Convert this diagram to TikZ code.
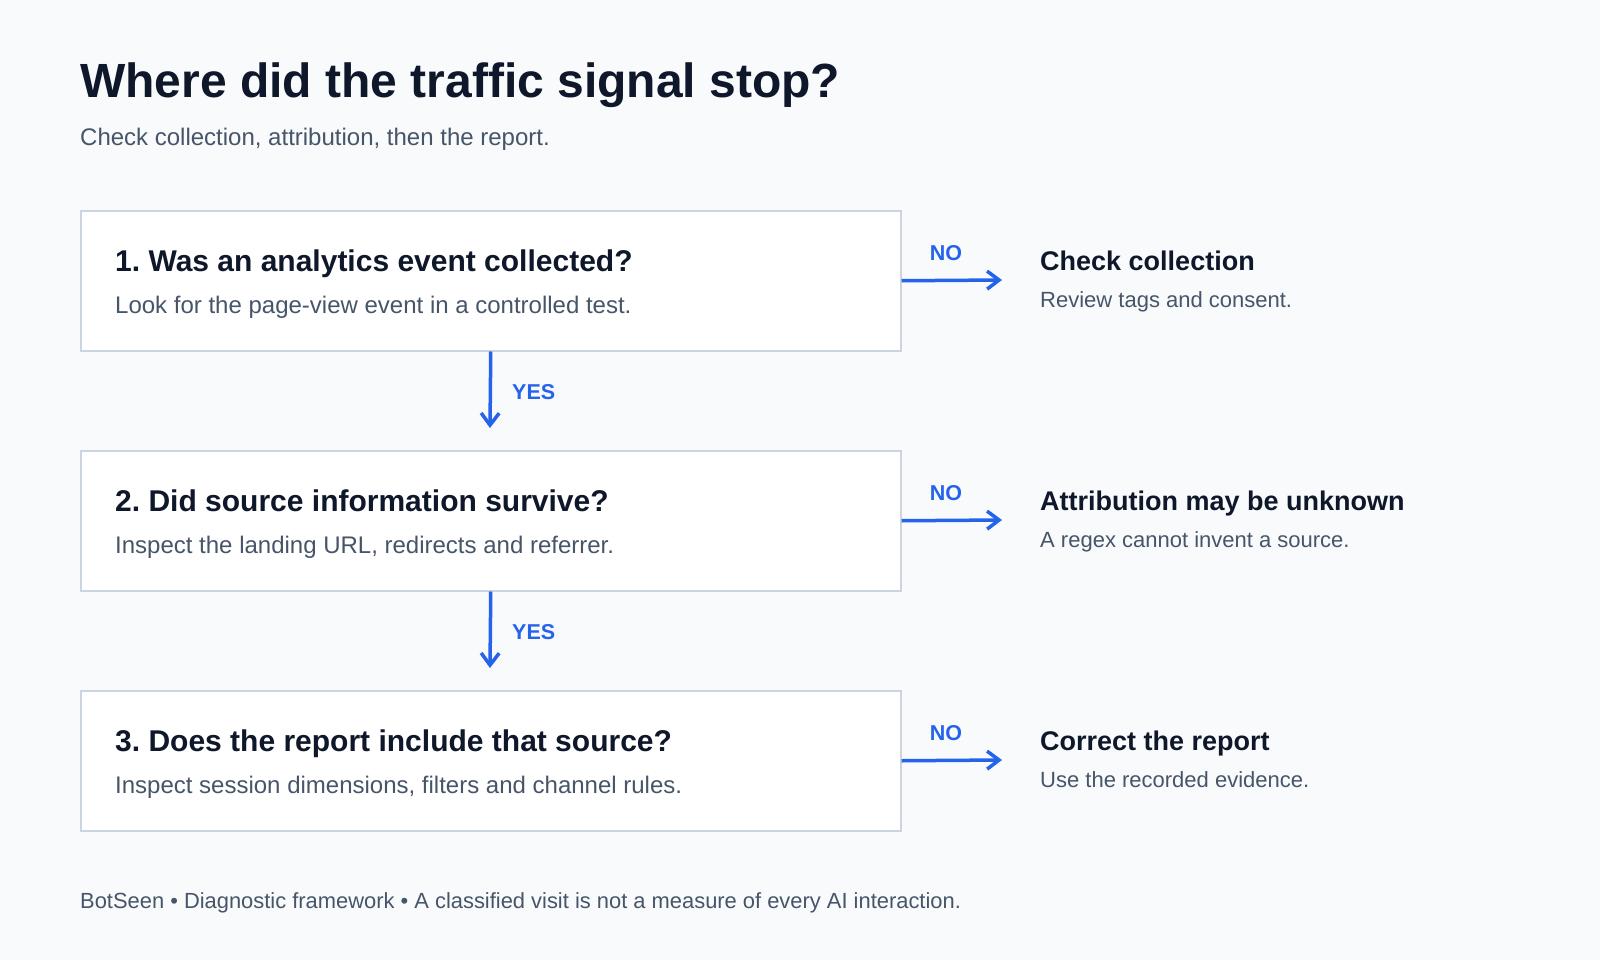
\documentclass[tikz,border=0pt]{standalone}
\usepackage{fontspec}
\setmainfont{Liberation Sans}
\usetikzlibrary{arrows.meta}

\definecolor{pagebg}{HTML}{F8FAFC}
\definecolor{ink}{HTML}{0F172A}
\definecolor{muted}{HTML}{475569}
\definecolor{edge}{HTML}{CBD5E1}
\definecolor{flowblue}{HTML}{2563EB}

\frenchspacing
\begin{document}
\begin{tikzpicture}[x=1pt,y=-1pt,
  question/.style={draw=edge,line width=1.5pt,fill=white,minimum width=820pt,minimum height=140pt,anchor=north west,inner sep=0pt},
  qtitle/.style={anchor=base west,inner sep=0pt,text=ink,font=\fontsize{30}{36}\selectfont\bfseries},
  qnote/.style={anchor=base west,inner sep=0pt,text=muted,font=\fontsize{24}{29}\selectfont},
  otitle/.style={anchor=base west,inner sep=0pt,text=ink,font=\fontsize{27}{32}\selectfont\bfseries},
  onote/.style={anchor=base west,inner sep=0pt,text=muted,font=\fontsize{22}{26}\selectfont},
  answer/.style={inner sep=0pt,text=flowblue,font=\fontsize{21.5}{26}\selectfont\bfseries},
  flow/.style={draw=flowblue,line width=3.5pt,-{Straight Barb[length=12pt,width=18pt]}}]
\fill[pagebg] (0,0) rectangle (1600,960);

% heading
\node[anchor=base west,inner sep=0pt,text=ink,font=\fontsize{48}{57}\selectfont\bfseries] (heading) at (80,98) {Where did the traffic signal stop?};
\node[anchor=base west,inner sep=0pt,text=muted,font=\fontsize{24}{29}\selectfont] (subheading) at (80,146) {Check collection, attribution, then the report.};

% questions
\node[question] (q1) at (80,210) {};
\node[qtitle] (q1t) at (115,271) {1. Was an analytics event collected?};
\node[qnote] (q1n) at (115,313) {Look for the page-view event in a controlled test.};

\node[question] (q2) at (80,450) {};
\node[qtitle] (q2t) at (115,511) {2. Did source information survive?};
\node[qnote] (q2n) at (115,553) {Inspect the landing URL, redirects and referrer.};

\node[question] (q3) at (80,690) {};
\node[qtitle] (q3t) at (115,751) {3. Does the report include that source?};
\node[qnote] (q3n) at (115,793) {Inspect session dimensions, filters and channel rules.};

% yes
\coordinate (y1) at (490,428);
\coordinate (y2) at (490,668);
\draw[flow] (q1.south) -- (y1);
\draw[flow] (q2.south) -- (y2);
\node[answer,anchor=west] (yes1) at (512,392) {YES};
\node[answer,anchor=west] (yes2) at (512,632) {YES};

% no
\coordinate (n1) at (1002,280);
\coordinate (n2) at (1002,520);
\coordinate (n3) at (1002,760);
\draw[flow] (q1.east) -- (n1);
\draw[flow] (q2.east) -- (n2);
\draw[flow] (q3.east) -- (n3);
\node[answer] (no1) at (946,253) {NO};
\node[answer] (no2) at (946,493) {NO};
\node[answer] (no3) at (946,733) {NO};

% outcomes
\node[otitle] (o1t) at (1040,270) {Check collection};
\node[onote] (o1n) at (1040,307) {Review tags and consent.};
\node[otitle] (o2t) at (1040,510) {Attribution may be unknown};
\node[onote] (o2n) at (1040,547) {A regex cannot invent a source.};
\node[otitle] (o3t) at (1040,750) {Correct the report};
\node[onote] (o3n) at (1040,787) {Use the recorded evidence.};

% footer
\node[anchor=base west,inner sep=0pt,text=muted,font=\fontsize{21.9}{26}\selectfont] (footer) at (80,908) {BotSeen • Diagnostic framework • A classified visit is not a measure of every AI interaction.};
\end{tikzpicture}
\end{document}
